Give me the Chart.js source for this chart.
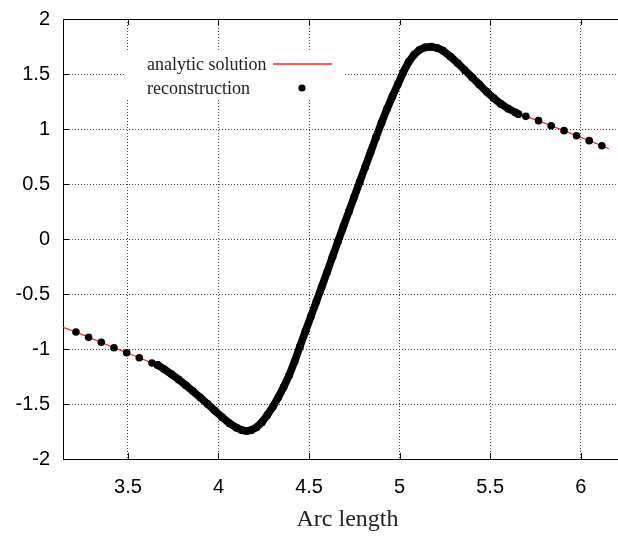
<!DOCTYPE html>
<html>
<head>
<meta charset="utf-8">
<script src="https://cdn.jsdelivr.net/npm/chart.js@4"></script>
<style>
  html, body { margin: 0; padding: 0; background: #fff; overflow: hidden; }
  canvas { display: block; }
</style>
</head>
<body>
<canvas id="chart" width="650" height="536"></canvas>
<script>
// values
var xTicks = [3.5, 4, 4.5, 5, 5.5, 6];
var yTicks = [-2, -1.5, -1, -0.5, 0, 0.5, 1, 1.5, 2];

var arcLeft = [3.213, 3.283, 3.353, 3.423, 3.493, 3.563, 3.633];
var reconLeft = [-0.845, -0.894, -0.939, -0.988, -1.034, -1.079, -1.127];

var arcDense = [3.664, 3.70, 3.74, 3.78, 3.82, 3.86, 3.90, 3.94, 3.98, 4.02,
    4.06, 4.10, 4.13, 4.155, 4.18, 4.21, 4.24, 4.27, 4.30, 4.33,
    4.36, 4.39, 4.42, 4.45, 4.48, 4.51, 4.54, 4.57, 4.60, 4.63,
    4.66, 4.69, 4.72, 4.75, 4.78, 4.81, 4.84, 4.87, 4.90, 4.93,
    4.96, 4.99, 5.02, 5.05, 5.08, 5.11, 5.14, 5.175, 5.21, 5.24,
    5.28, 5.32, 5.36, 5.40, 5.44, 5.48, 5.52, 5.56, 5.60, 5.64, 5.656];
var reconDense = [-1.145, -1.183, -1.228, -1.277, -1.330, -1.385, -1.442, -1.500, -1.560, -1.620,
    -1.675, -1.716, -1.738, -1.745, -1.738, -1.712, -1.665, -1.600, -1.525, -1.440,
    -1.345, -1.240, -1.115, -0.975, -0.840, -0.705, -0.570, -0.435, -0.300, -0.160,
    -0.020, 0.115, 0.250, 0.385, 0.520, 0.655, 0.790, 0.925, 1.055, 1.180,
    1.295, 1.405, 1.515, 1.610, 1.675, 1.720, 1.742, 1.748, 1.735, 1.712,
    1.660, 1.600, 1.535, 1.470, 1.405, 1.340, 1.280, 1.228, 1.185, 1.150, 1.136];

var arcRight = [5.697, 5.767, 5.837, 5.908, 5.977, 6.047, 6.117];
var reconRight = [1.115, 1.076, 1.030, 0.985, 0.939, 0.894, 0.848];

// analytic curve only shows at both ends, otherwise it runs under the dots
var arcEnds = [3.1416, 6.155];
var analyticEnds = [-0.803, 0.820];

function pts(xs, ys) {
    var out = [];
    for (var i = 0; i < xs.length; i++) out.push({x: xs[i], y: ys[i]});
    return out;
}

var analyticPts = [{x: arcEnds[0], y: analyticEnds[0]}]
    .concat(pts(arcLeft, reconLeft), pts(arcDense, reconDense), pts(arcRight, reconRight))
    .concat([{x: arcEnds[1], y: analyticEnds[1]}]);

var framePlugin = {
    id: 'frame',
    beforeDatasetsDraw: function(chart) {
        var ctx = chart.ctx, a = chart.chartArea;
        var xs = chart.scales.x, ys = chart.scales.y;
        ctx.save();
        // key box
        var bx = a.left + 62, by = a.top + 33;
        ctx.fillStyle = '#fff';
        ctx.fillRect(bx, by, 220, 48);
        ctx.fillStyle = '#222';
        ctx.font = '18px "Liberation Serif"';
        ctx.textBaseline = 'alphabetic';
        ctx.fillText('analytic solution', a.left + 84, a.top + 51);
        ctx.fillText('reconstruction', a.left + 84, a.top + 75);
        ctx.strokeStyle = '#ff2020';
        ctx.lineWidth = 1.3;
        ctx.beginPath();
        ctx.moveTo(a.left + 210, a.top + 45);
        ctx.lineTo(a.left + 269, a.top + 45);
        ctx.stroke();
        ctx.fillStyle = '#000';
        ctx.beginPath();
        ctx.arc(a.left + 239, a.top + 69, 3.6, 0, Math.PI * 2);
        ctx.fill();
        // border and inward ticks
        ctx.strokeStyle = '#000';
        ctx.lineWidth = 1;
        ctx.strokeRect(a.left + 0.5, a.top + 0.5, a.right - a.left, a.bottom - a.top);
        ctx.beginPath();
        xTicks.forEach(function(v) {
            var px = Math.round(xs.getPixelForValue(v)) + 0.5;
            ctx.moveTo(px, a.bottom); ctx.lineTo(px, a.bottom - 6);
            ctx.moveTo(px, a.top); ctx.lineTo(px, a.top + 6);
        });
        yTicks.forEach(function(v) {
            var py = Math.round(ys.getPixelForValue(v)) + 0.5;
            ctx.moveTo(a.left, py); ctx.lineTo(a.left + 6, py);
        });
        ctx.stroke();
        ctx.restore();
    }
};

var ctx = document.getElementById('chart').getContext('2d');
var chart = new Chart(ctx, {
    type: 'scatter',
    data: {
        datasets: [
            {
                label: 'reconstruction',
                data: pts(arcDense, reconDense),
                showLine: true,
                borderColor: '#000',
                borderWidth: 7.6,
                borderCapStyle: 'round',
                borderJoinStyle: 'round',
                backgroundColor: '#000',
                pointRadius: 3.9,
                pointBorderWidth: 0,
                order: 1
            },
            {
                label: 'reconstruction',
                data: pts(arcLeft, reconLeft).concat(pts(arcRight, reconRight)),
                showLine: false,
                backgroundColor: '#000',
                borderColor: '#000',
                pointRadius: 3.8,
                pointBorderWidth: 0,
                order: 1
            },
            {
                label: 'analytic solution',
                data: analyticPts,
                showLine: true,
                borderColor: '#ff1a1a',
                borderWidth: 1.2,
                pointRadius: 0,
                order: 2
            }
        ]
    },
    options: {
        responsive: false,
        animation: false,
        events: [],
        layout: { padding: { top: 19, right: 18, left: 0, bottom: 0 } },
        plugins: { legend: { display: false }, tooltip: { enabled: false } },
        scales: {
            x: {
                type: 'linear',
                min: Math.PI,
                max: 2 * Math.PI,
                afterBuildTicks: function(s) { s.ticks = xTicks.map(function(v) { return {value: v}; }); },
                afterFit: function(s) { s.height = 77; s.paddingLeft = 0; s.paddingRight = 0; },
                grid: { color: '#444', lineWidth: 1, drawTicks: false },
                border: { display: false, dash: [1, 2] },
                ticks: {
                    padding: 16,
                    color: '#000',
                    font: { family: '"Liberation Sans"', size: 20 },
                    callback: function(v) { return String(v); }
                },
                title: {
                    display: true,
                    text: 'Arc length',
                    color: '#222',
                    font: { family: '"Liberation Serif"', size: 24 },
                    padding: { top: 0, bottom: 2 }
                }
            },
            y: {
                type: 'linear',
                min: -2,
                max: 2,
                afterBuildTicks: function(s) { s.ticks = yTicks.map(function(v) { return {value: v}; }); },
                afterFit: function(s) { s.width = 63; s.paddingTop = 0; s.paddingBottom = 0; },
                grid: { color: '#444', lineWidth: 1, drawTicks: false },
                border: { display: false, dash: [1, 2] },
                ticks: {
                    padding: 13,
                    color: '#000',
                    font: { family: '"Liberation Sans"', size: 20 },
                    callback: function(v) { return String(v); }
                }
            }
        }
    },
    plugins: [framePlugin]
});
</script>
</body>
</html>
